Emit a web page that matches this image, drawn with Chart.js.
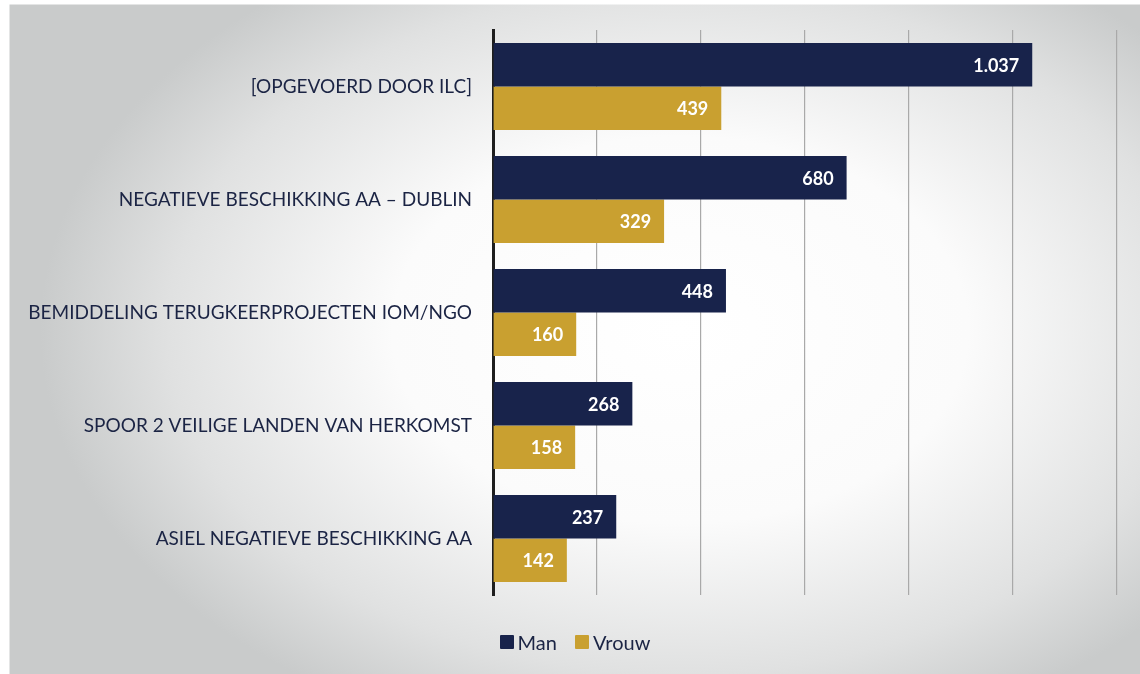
<!DOCTYPE html>
<html>
<head>
<meta charset="utf-8">
<script src="https://cdn.jsdelivr.net/npm/chart.js@4/dist/chart.umd.min.js"></script>
<style>
  html, body { margin: 0; padding: 0; }
  body {
    width: 1140px; height: 674px; overflow: hidden; position: relative;
    background:
      linear-gradient(to right, #ffffff 0, #ffffff 9px, transparent 10px),
      linear-gradient(to bottom, #ffffff 0, #ffffff 4px, transparent 5px),
      radial-gradient(ellipse 640px 430px at 680px 330px, #ffffff 0%, #fbfbfb 45%, #e0e1e1 80%, #c9cbcb 100%),
      #c6c8c8;
  }
  #wrap { position: absolute; left: 0; top: 0; width: 1140px; height: 674px; }
  #legend {
    position: absolute; left: 0; width: 1150px; top: 630px;
    display: flex; justify-content: center; gap: 18px;
    font-family: Lato, "Open Sans", sans-serif; font-size: 20px; color: #1b2444;
  }
  #legend .item { display: flex; align-items: center; }
  #legend .swatch { width: 14px; height: 14px; margin-right: 4px; border-radius: 1px; }
</style>
</head>
<body>
<div id="wrap"><canvas id="c" width="1140" height="674"></canvas></div>
<div id="legend"></div>
<script>
const categories = [
  '[OPGEVOERD DOOR ILC]',
  'NEGATIEVE BESCHIKKING AA \u2013 DUBLIN',
  'BEMIDDELING TERUGKEERPROJECTEN IOM/NGO',
  'SPOOR 2 VEILIGE LANDEN VAN HERKOMST',
  'ASIEL NEGATIEVE BESCHIKKING AA'
];
const manValues = [1037, 680, 448, 268, 237];
const vrouwValues = [439, 329, 160, 158, 142];
const seriesNames = ['Man', 'Vrouw'];
const seriesColors = ['#18234b', '#c9a030'];

const TEXT = '#1b2444';
const FONT = 'Lato, "Open Sans", sans-serif';

function formatNL(v) {
  return String(v).replace(/\B(?=(\d{3})+(?!\d))/g, '.');
}

// white value labels at the inner end of each bar
const valueLabels = {
  id: 'valueLabels',
  afterDatasetsDraw(chart) {
    const ctx = chart.ctx;
    ctx.save();
    ctx.fillStyle = '#ffffff';
    ctx.font = 'bold 18px ' + FONT;
    ctx.textAlign = 'right';
    ctx.textBaseline = 'middle';
    chart.data.datasets.forEach((ds, i) => {
      const meta = chart.getDatasetMeta(i);
      meta.data.forEach((bar, j) => {
        ctx.fillText(formatNL(ds.data[j]), bar.x - 13, bar.y + 1);
      });
    });
    ctx.restore();
  }
};

const chart = new Chart(document.getElementById('c'), {
  type: 'bar',
  data: {
    labels: categories,
    datasets: [
      { label: seriesNames[0], data: manValues, backgroundColor: seriesColors[0] },
      { label: seriesNames[1], data: vrouwValues, backgroundColor: seriesColors[1] }
    ]
  },
  options: {
    indexAxis: 'y',
    responsive: false,
    animation: false,
    devicePixelRatio: 1,
    layout: { padding: { left: 0, right: 23, top: 30, bottom: 79 } },
    datasets: { bar: { categoryPercentage: 0.77, barPercentage: 1.0 } },
    scales: {
      x: {
        min: 0, max: 1200,
        ticks: { display: false, stepSize: 200 },
        grid: { color: '#a9a9a9', lineWidth: 1.2, drawTicks: false },
        border: { display: false }
      },
      y: {
        afterFit(scale) { scale.width = 493; },
        grid: { display: false },
        border: { display: true, color: '#1e1e1e', width: 3 },
        ticks: {
          color: TEXT,
          padding: 13,
          font: { family: FONT, size: 19 }
        }
      }
    },
    plugins: {
      legend: { display: false },
      tooltip: { enabled: false }
    }
  },
  plugins: [valueLabels]
});

// legend built from the series names and colours
const legend = document.getElementById('legend');
seriesNames.forEach((name, i) => {
  const item = document.createElement('div');
  item.className = 'item';
  const sw = document.createElement('span');
  sw.className = 'swatch';
  sw.style.background = seriesColors[i];
  const txt = document.createElement('span');
  txt.textContent = name;
  item.appendChild(sw);
  item.appendChild(txt);
  legend.appendChild(item);
});
</script>
</body>
</html>
